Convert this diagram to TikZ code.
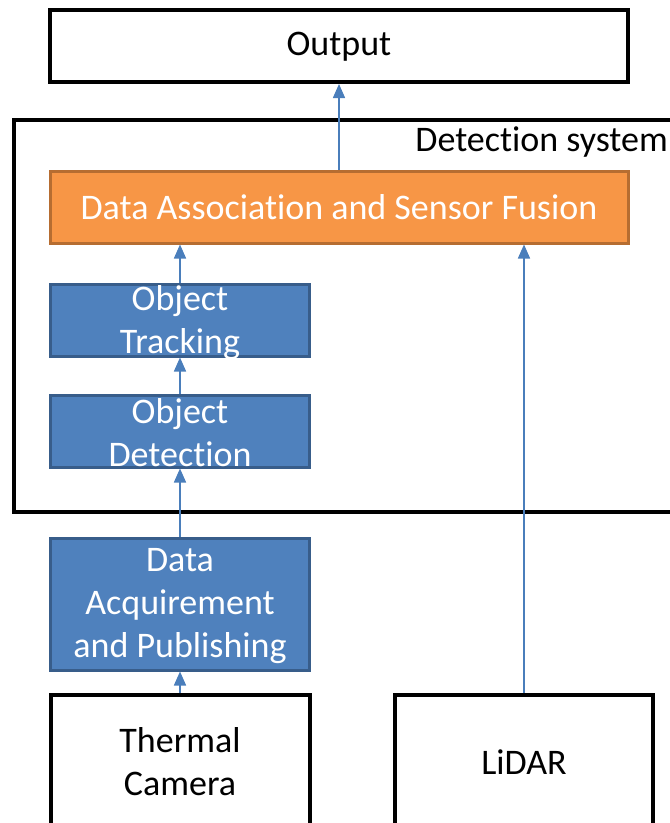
\documentclass[tikz,border=0pt]{standalone}
\usepackage{fontspec}
\setmainfont{Carlito}[Ligatures={NoCommon}]
\usetikzlibrary{arrows.meta}
\definecolor{bfill}{RGB}{79,129,189}
\definecolor{bdraw}{RGB}{56,93,138}
\definecolor{ofill}{RGB}{247,150,70}
\definecolor{odraw}{RGB}{182,109,49}
\definecolor{arr}{RGB}{74,126,187}
\tikzset{
  wbox/.style={draw=black, line width=4pt, fill=white, inner sep=0pt},
  bbox/.style={draw=bdraw, line width=3pt, fill=bfill, inner sep=0pt},
  obox/.style={draw=odraw, line width=3pt, fill=ofill, inner sep=0pt},
  wtxt/.style={text=white, align=center, inner sep=0pt, font=\fontsize{36}{43}\selectfont},
  ktxt/.style={text=black, align=center, inner sep=0pt, font=\fontsize{36}{43}\selectfont},
  conn/.style={draw=arr, line width=1.6pt, -{Triangle[width=12pt,length=14pt]}},
}
\begin{document}
\begin{tikzpicture}[x=1pt,y=-1pt]
\useasboundingbox (0,0) rectangle (670,823);
% detection system frame
\node[wbox, minimum width=676pt, minimum height=392pt] (sys) at (352,316) {};
\node[ktxt, anchor=base east] (syslbl) at (668,151) {Detection system};
% boxes
\node[wbox, minimum width=578pt, minimum height=72pt] (out) at (339,46) {};
\node[ktxt] (outt) at (339,47) {Output};
\node[obox, minimum width=578pt, minimum height=72pt] (fus) at (339,207) {};
\node[wtxt] (fust) at (339,207) {Data Association and Sensor Fusion};
\node[bbox, minimum width=259pt, minimum height=72pt] (trk) at (180,320) {};
\node[wtxt] (trkt) at (180,323) {Object\\Tracking};
\node[bbox, minimum width=259pt, minimum height=72pt] (odt) at (180,431) {};
\node[wtxt] (odtt) at (180,433) {Object\\Detection};
\node[bbox, minimum width=259pt, minimum height=132pt] (dap) at (180,604) {};
\node[wtxt] (dapt) at (180,606) {Data\\Acquirement\\and Publishing};
\node[wbox, minimum width=259pt, minimum height=145pt] (thc) at (180,767.5) {};
\node[ktxt] (thct) at (180,762) {Thermal\\Camera};
\node[wbox, minimum width=258pt, minimum height=145pt] (lid) at (524,767.5) {};
\node[ktxt] (lidt) at (524,762) {LiDAR};
% connectors
\draw[conn] (fus.north) -- (out.south);
\draw[conn] (trk.north) -- (trk.north |- fus.south);
\draw[conn] (odt.north) -- (trk.south);
\draw[conn] (dap.north) -- (odt.south);
\draw[conn] (thc.north) -- (dap.south);
\draw[conn] (lid.north) -- (lid.north |- fus.south);
\end{tikzpicture}
\end{document}
